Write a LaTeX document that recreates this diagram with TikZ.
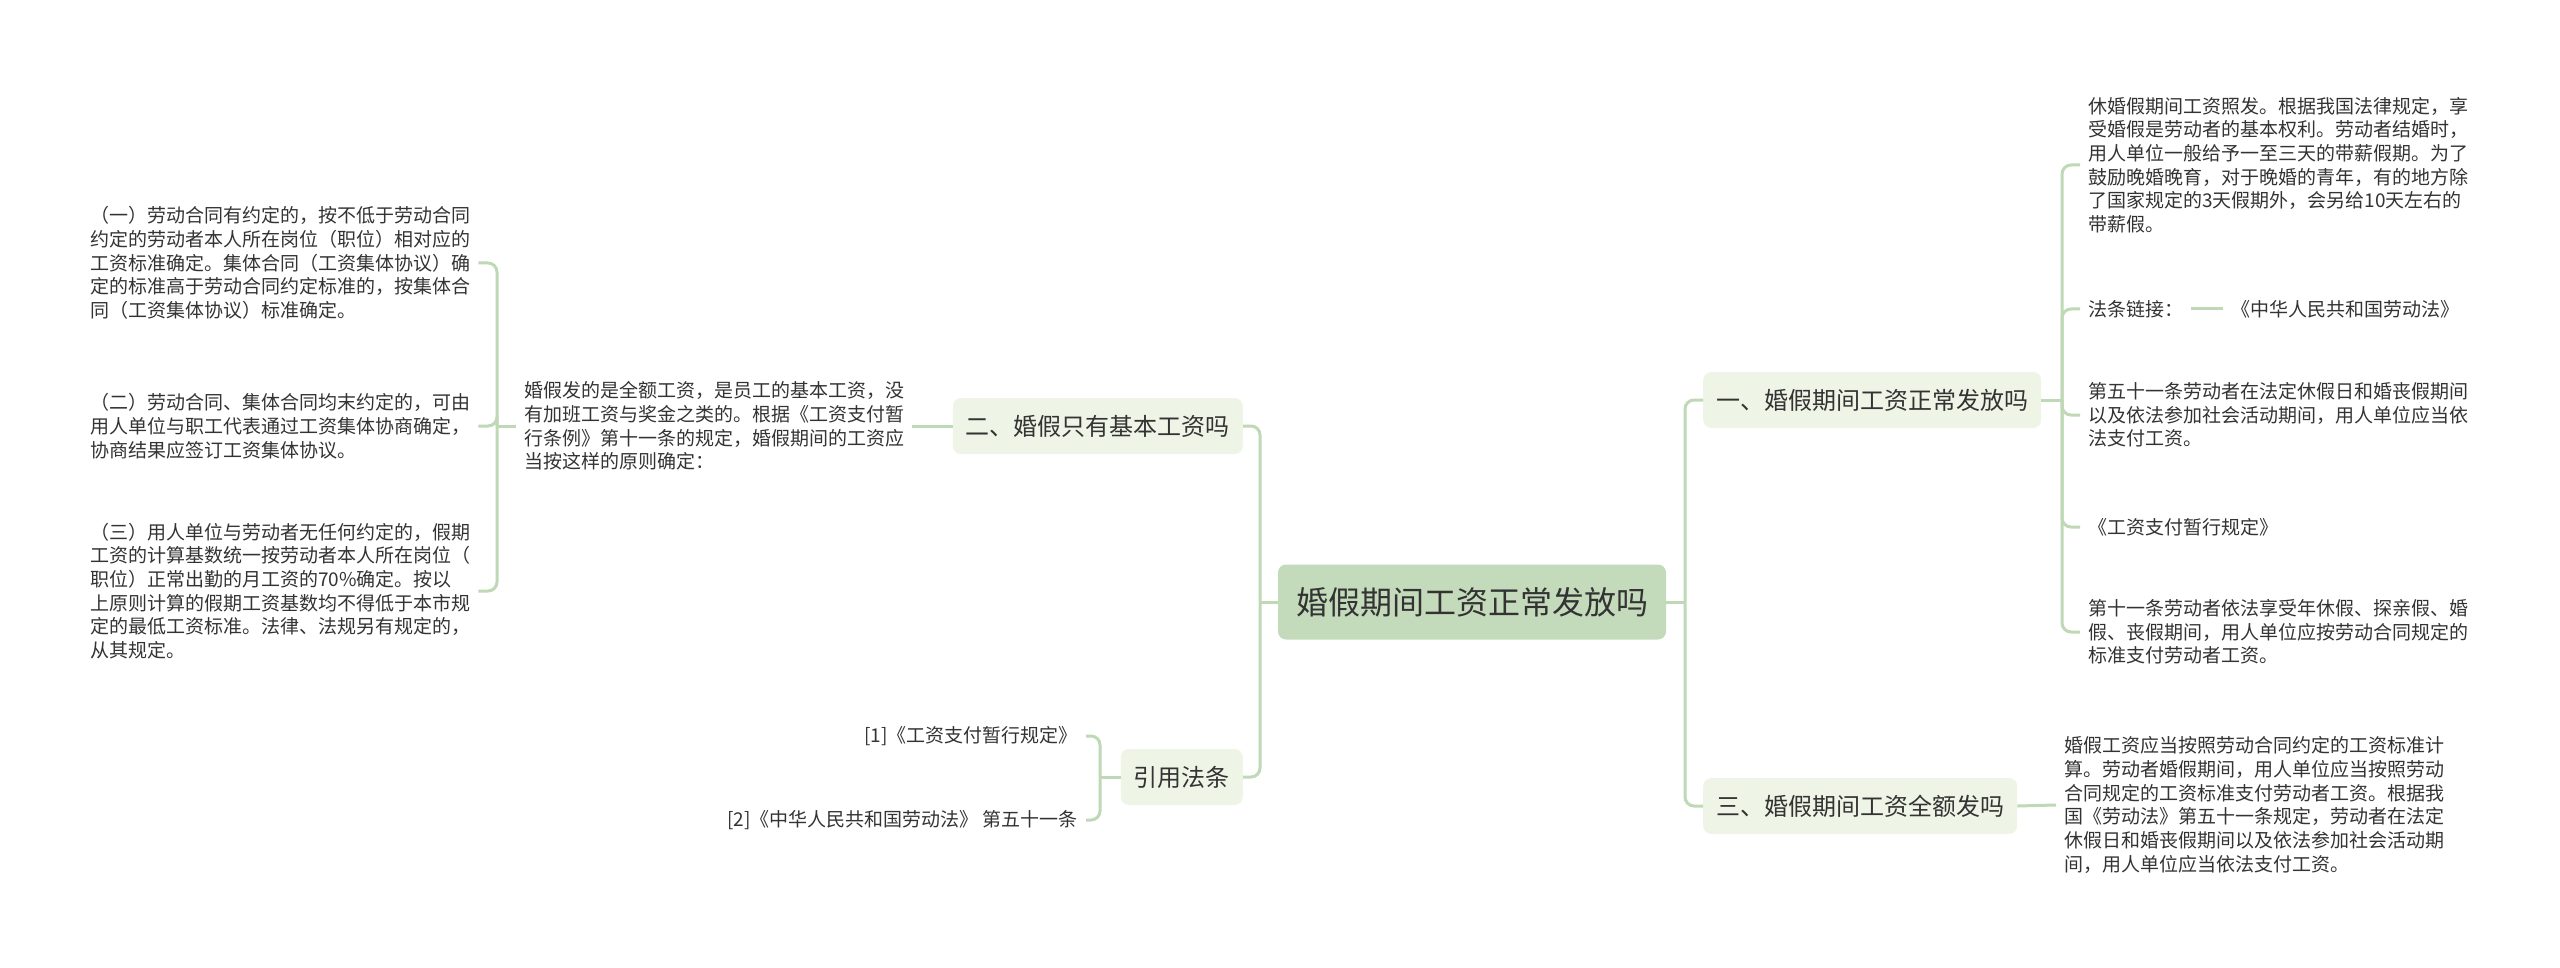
\documentclass[tikz,border=0pt]{standalone}
\usepackage{fontspec}
\setmainfont{Noto Sans CJK SC}
\definecolor{linec}{HTML}{BFD8B6}
\definecolor{rootc}{HTML}{C3DBBB}
\definecolor{subc}{HTML}{EEF4E6}
\definecolor{textc}{HTML}{333333}

\begin{document}
\begin{tikzpicture}[x=1pt,y=-1pt,
  root/.style={fill=rootc, rounded corners=8pt, minimum height=75pt, inner xsep=18pt, font=\fontsize{32}{38}\selectfont, text=textc},
  sub/.style={fill=subc, rounded corners=8pt, minimum height=56pt, inner xsep=13pt, font=\fontsize{24}{29}\selectfont, text=textc},
  txt/.style={align=left, inner xsep=8pt, inner ysep=2pt, font=\fontsize{19}{23.7}\selectfont, text=textc},
  link/.style={draw=linec, line width=3pt, rounded corners=9pt}]
\useasboundingbox (0,0) rectangle (2560,968);
\node[root] (root) at (1472,602) {婚假期间工资正常发放吗};
\node[sub, anchor=east] (q2) at (1243,426) {二、婚假只有基本工资吗};
\node[sub, anchor=east] (cite) at (1243,777) {引用法条};
\node[sub, anchor=west] (q1) at (1703,400) {一、婚假期间工资正常发放吗};
\node[sub, anchor=west] (q3) at (1703,806) {三、婚假期间工资全额发吗};
\node[txt, anchor=west] (a2) at (516,426) {婚假发的是全额工资，是员工的基本工资，没\\有加班工资与奖金之类的。根据《工资支付暂\\行条例》第十一条的规定，婚假期间的工资应\\当按这样的原则确定：};
\node[txt, anchor=west] (b1) at (82,263) {（一）劳动合同有约定的，按不低于劳动合同\\约定的劳动者本人所在岗位（职位）相对应的\\工资标准确定。集体合同（工资集体协议）确\\定的标准高于劳动合同约定标准的，按集体合\\同（工资集体协议）标准确定。};
\node[txt, anchor=west] (b2) at (82,426) {（二）劳动合同、集体合同均末约定的，可由\\用人单位与职工代表通过工资集体协商确定，\\协商结果应签订工资集体协议。};
\node[txt, anchor=west] (b3) at (82,591) {（三）用人单位与劳动者无任何约定的，假期\\工资的计算基数统一按劳动者本人所在岗位（\\职位）正常出勤的月工资的70\%确定。按以\\上原则计算的假期工资基数均不得低于本市规\\定的最低工资标准。法律、法规另有规定的，\\从其规定。};
\node[txt, anchor=west] (c1) at (2080,165) {休婚假期间工资照发。根据我国法律规定，享\\受婚假是劳动者的基本权利。劳动者结婚时，\\用人单位一般给予一至三天的带薪假期。为了\\鼓励晚婚晚育，对于晚婚的青年，有的地方除\\了国家规定的3天假期外，会另给10天左右的\\带薪假。};
\node[txt, anchor=west] (c2) at (2080,309) {法条链接：};
\node[txt, anchor=west] (c2b) at (2223,309) {《中华人民共和国劳动法》};
\node[txt, anchor=west] (c3) at (2080,415) {第五十一条劳动者在法定休假日和婚丧假期间\\以及依法参加社会活动期间，用人单位应当依\\法支付工资。};
\node[txt, anchor=west] (c4) at (2080,527) {《工资支付暂行规定》};
\node[txt, anchor=west] (c5) at (2080,632) {第十一条劳动者依法享受年休假、探亲假、婚\\假、丧假期间，用人单位应按劳动合同规定的\\标准支付劳动者工资。};
\node[txt, anchor=west] (d1) at (2056,805) {婚假工资应当按照劳动合同约定的工资标准计\\算。劳动者婚假期间，用人单位应当按照劳动\\合同规定的工资标准支付劳动者工资。根据我\\国《劳动法》第五十一条规定，劳动者在法定\\休假日和婚丧假期间以及依法参加社会活动期\\间，用人单位应当依法支付工资。};
\node[txt, anchor=east] (e1) at (1086,736) {[1]《工资支付暂行规定》};
\node[txt, anchor=east] (e2) at (1086,820) {[2]《中华人民共和国劳动法》 第五十一条};
\coordinate (jl) at (1260,602);
\coordinate (jr) at (1685,602);
\coordinate (ja) at (497,426);
\coordinate (jc) at (2062,400);
\coordinate (je) at (1100,777);
\draw[link] (root.west) -- (jl);
\draw[link] (jl) |- (q2.east);
\draw[link] (jl) |- (cite.east);
\draw[link] (root.east) -- (jr);
\draw[link] (jr) |- (q1.west);
\draw[link] (jr) |- (q3.west);
\draw[link] (q2.west) -- (a2.east);
\draw[link] (a2.west) -- (ja);
\foreach \n in {b1,b2,b3} \draw[link] (ja) |- (\n.east);
\draw[link] (q1.east) -- (jc);
\foreach \n in {c1,c2,c3,c4,c5} \draw[link] (jc) |- (\n.west);
\draw[link] (c2.east) -- (c2b.west);
\draw[link] (q3.east) -- (d1.west);
\draw[link] (cite.west) -- (je);
\foreach \n in {e1,e2} \draw[link] (je) |- (\n.east);
\end{tikzpicture}
\end{document}
